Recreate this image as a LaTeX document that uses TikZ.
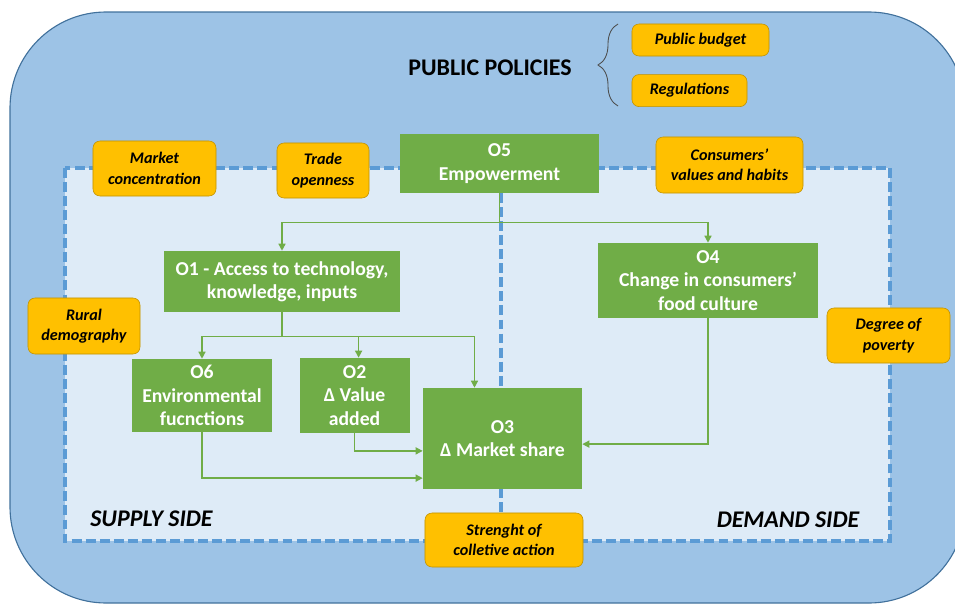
\documentclass[tikz,border=0pt]{standalone}
\usepackage{fontspec}
\setmainfont{Carlito}
\usetikzlibrary{arrows.meta, positioning, calc, decorations.pathreplacing}

\definecolor{outerblue}{RGB}{157,195,230}
\definecolor{outerline}{RGB}{65,113,156}
\definecolor{innerblue}{RGB}{222,235,247}
\definecolor{dashblue}{RGB}{91,155,213}
\definecolor{goalgreen}{RGB}{112,173,71}
\definecolor{factorgold}{RGB}{255,192,0}
\definecolor{factorline}{RGB}{191,144,0}

\begin{document}
\begin{tikzpicture}[
    x=0.025cm, y=-0.025cm,
    goal/.style   ={rectangle, fill=goalgreen, text=white, align=center, inner sep=2pt, font=\fontsize{14}{16.5}\selectfont\bfseries},
    factor/.style ={rectangle, draw=factorline, fill=factorgold, rounded corners=5pt, align=center, inner sep=2pt, font=\fontsize{11.5}{14.5}\selectfont\bfseries\itshape},
    side/.style   ={font=\fontsize{17}{20}\selectfont\bfseries\itshape},
    frame/.style  ={draw=dashblue, line width=2.2pt, dash pattern=on 7pt off 3pt},
    link/.style   ={draw=goalgreen, line width=1pt},
    arrow/.style  ={link, -{Triangle[length=5pt, width=5pt]}},
    ]

    \useasboundingbox (0,0) rectangle (955,605);
    \clip (0,0) rectangle (955,605);

    % --- Policy area and the two sides ---
    \draw[draw=outerline, fill=outerblue, line width=0.8pt, rounded corners=2.4cm] (10,12) rectangle (965,603);
    \draw[frame, fill=innerblue] (65,168) rectangle (890,541);
    \draw[frame] (501,193) -- (501,541);

    % --- Public policies ---
    \node[font=\fontsize{17}{20}\selectfont\bfseries] (policies) at (490,68) {PUBLIC POLICIES};
    \draw[draw=black!70, line width=0.6pt, decorate, decoration={brace, amplitude=0.5cm}] (618,106) -- (618,24);
    \node[factor, minimum width=3.425cm, minimum height=0.8cm] (budget) at (700.5,40) {Public budget};
    \node[factor, minimum width=2.875cm, minimum height=0.8cm, below=0.45cm of budget.south west, anchor=north west] (regul) {Regulations};

    % --- Context factors ---
    \node[factor, minimum width=3.075cm, minimum height=1.375cm] (mkt_conc) at (154.5,168.5) {Market\\concentration};
    \node[factor, minimum width=2.3cm, minimum height=1.375cm] (trade) at (323,170.5) {Trade\\openness};
    \node[factor, minimum width=3.675cm, minimum height=1.4cm] (habits) at (729.5,165) {Consumers’\\values and habits};
    \node[factor, minimum width=2.8cm, minimum height=1.4cm] (rural) at (84,326) {Rural\\demography};
    \node[factor, minimum width=3.075cm, minimum height=1.375cm] (poverty) at (888.5,335.5) {Degree of\\poverty};
    \node[factor, minimum width=3.95cm, minimum height=1.35cm] (collective) at (504,540) {Strenght of\\colletive action};

    % --- Outcomes ---
    \node[goal, minimum width=4.975cm, minimum height=1.475cm] (o5) at (499.5,163.5) {O5\\Empowerment};
    \node[goal, minimum width=5.9cm, minimum height=1.525cm] (o1) at (282,281.5) {O1 - Access to technology,\\knowledge, inputs};
    \node[goal, minimum width=5.5cm, minimum height=1.875cm] (o4) at (708,280.5) {O4\\Change in consumers’\\food culture};
    \node[goal, minimum width=3.5cm, minimum height=1.825cm] (o6) at (202,395.5) {O6\\Environmental\\fucnctions};
    \node[goal, minimum width=2.75cm, minimum height=1.875cm, right=0.675cm of o6] (o2) {O2\\Δ Value\\added};
    \node[goal, minimum width=3.975cm, minimum height=2.525cm] (o3) at (502.5,438.5) {O3\\Δ Market share};

    \node[side] (supply) at (151.5,519) {SUPPLY SIDE};
    \node[side] (demand) at (788,520) {DEMAND SIDE};

    % --- Connections ---
    \coordinate (o5_hub) at ($(o5.south)+(0,29)$);
    \coordinate (o1_hub) at ($(o1.south)+(0,24)$);

    \draw[link] (o5) -- (o5_hub);
    \draw[arrow] (o5_hub) -| (o1);
    \draw[arrow] (o5_hub) -| (o4);

    \draw[link] (o1) -- (o1_hub);
    \draw[arrow] (o1_hub) -| (o6);
    \draw[arrow] (o1_hub) -| ([xshift=0.1cm]o2.north);
    \draw[arrow] (o1_hub) -| ([xshift=-0.7cm]o3.north);

    % into market share
    \draw[arrow] (o2) |- ([yshift=-0.31cm]o3.west);
    \draw[arrow] (o6) |- ([yshift=-0.99cm]o3.west);
    \draw[arrow] (o4) |- ([yshift=-0.14cm]o3.east);

\end{tikzpicture}
\end{document}
